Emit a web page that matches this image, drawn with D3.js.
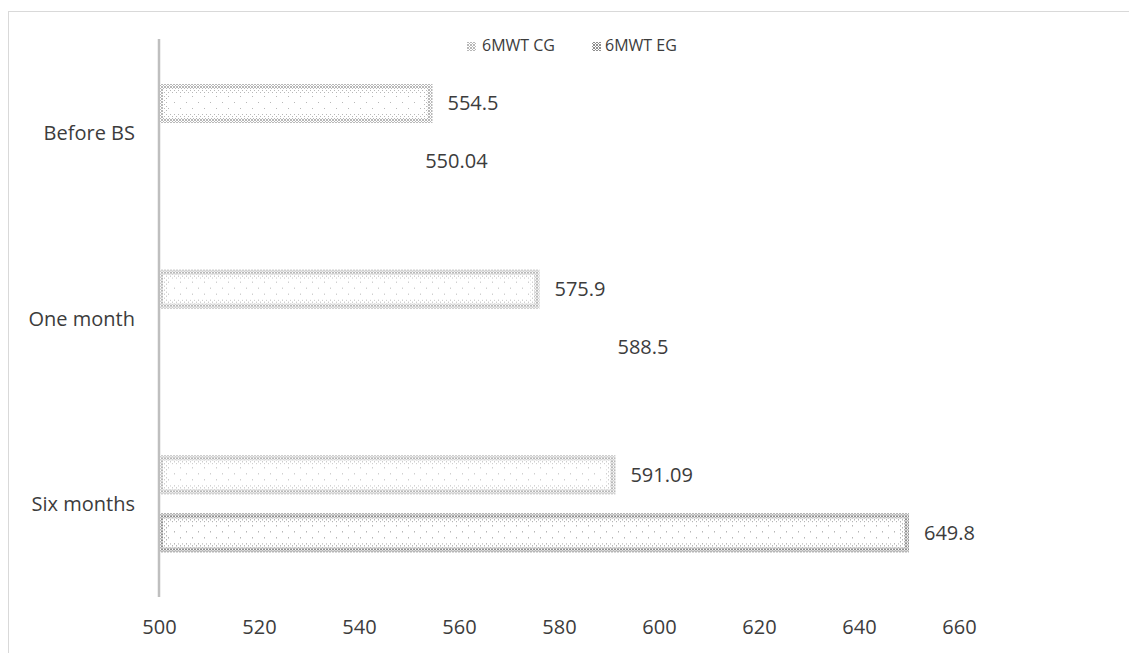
<!DOCTYPE html>
<html>
<head>
<meta charset="utf-8">
<script src="https://cdn.jsdelivr.net/npm/d3@7/dist/d3.min.js"></script>
<style>
  html, body { margin: 0; padding: 0; background: #fff; }
  svg { display: block; font-family: "Open Sans", sans-serif; }
</style>
</head>
<body>
<svg id="chart" width="1129" height="653"></svg>
<script>
const categories = ["Before BS", "One month", "Six months"];
const seriesNames = ["6MWT CG", "6MWT EG"];
const cgValues = [554.5, 575.9, 591.09];
const egValues = [550.04, 588.5, 649.8];
const xTicks = [500, 520, 540, 560, 580, 600, 620, 640, 660];

const svg = d3.select("#chart");
const W = 1129, H = 653;
const textColor = "#3c3c3c";

// chart frame
svg.append("rect").attr("x", 8.5).attr("y", 11.5).attr("width", W + 20).attr("height", H + 20)
  .attr("fill", "#fff").attr("stroke", "#d9d9d9").attr("stroke-width", 1);

// patterns
const defs = svg.append("defs");
function makePatterns(id, color) {
  const dense = defs.append("pattern").attr("id", id + "-dense")
    .attr("patternUnits", "userSpaceOnUse").attr("width", 3).attr("height", 3);
  dense.append("rect").attr("width", 3).attr("height", 3).attr("fill", "#fff");
  [[0,0],[2,0],[1,1],[0,2],[2,2]].forEach(([a,b]) =>
    dense.append("rect").attr("x", a).attr("y", b).attr("width", 1).attr("height", 1).attr("fill", color));
  const mid = defs.append("pattern").attr("id", id + "-mid")
    .attr("patternUnits", "userSpaceOnUse").attr("width", 4).attr("height", 4);
  mid.append("rect").attr("width", 4).attr("height", 4).attr("fill", "#fff");
  [[0,0],[2,2]].forEach(([a,b]) =>
    mid.append("rect").attr("x", a).attr("y", b).attr("width", 1).attr("height", 1).attr("fill", color));
  const sparse = defs.append("pattern").attr("id", id + "-sparse")
    .attr("patternUnits", "userSpaceOnUse").attr("width", 12).attr("height", 12);
  sparse.append("rect").attr("width", 12).attr("height", 12).attr("fill", "#fff");
  [[0,0],[6,6]].forEach(([a,b]) =>
    sparse.append("rect").attr("x", a).attr("y", b).attr("width", 1).attr("height", 1).attr("fill", color));
}
makePatterns("cg", "#b8b8b8");
makePatterns("eg", "#8f8f8f");

// scales
const x = d3.scaleLinear().domain([500, 660]).range([159, 959]);
const y0 = d3.scaleBand().domain(categories).range([40, 597]);
const y1 = d3.scaleBand().domain(seriesNames).range([44, 141]).paddingInner(0.328);

// axis line (vertical category axis)
svg.append("line").attr("x1", x(500)).attr("x2", x(500)).attr("y1", 39).attr("y2", 597)
  .attr("stroke", "#bfbfbf").attr("stroke-width", 2.5);

// x tick labels
const xAxis = d3.axisBottom(x).tickValues(xTicks).tickSize(0).tickPadding(0);
const gx = svg.append("g").attr("transform", "translate(0,620)").call(xAxis);
gx.select(".domain").remove();
gx.selectAll("text").attr("fill", textColor).style("font-size", "20px")
  .style("font-family", "'Open Sans', sans-serif");

// category labels
const yAxis = d3.axisLeft(y0).tickSize(0).tickPadding(0);
const gy = svg.append("g").attr("transform", "translate(135,0)").call(yAxis);
gy.select(".domain").remove();
gy.selectAll("text").attr("fill", textColor).style("font-size", "20px")
  .style("font-family", "'Open Sans', sans-serif").attr("dy", "0.35em");

// bars
const rows = [];
categories.forEach((c, i) => {
  rows.push({cat: c, s: seriesNames[0], v: cgValues[i], id: "cg", visible: true});
  rows.push({cat: c, s: seriesNames[1], v: egValues[i], id: "eg", visible: i === categories.length - 1});
});

const bars = svg.append("g").selectAll("g").data(rows).join("g")
  .attr("transform", d => `translate(0,${y0(d.cat) + y1(d.s)})`);
const bh = y1.bandwidth();

bars.each(function(d) {
  const g = d3.select(this);
  const w = x(d.v) - x(500);
  if (!d.visible) {
    g.append("rect").attr("x", x(500) + 1).attr("y", 0).attr("width", w).attr("height", bh)
      .attr("fill", "#fff").attr("fill-opacity", 0);
    return;
  }
  g.append("rect").attr("x", x(500) + 1).attr("y", 0).attr("width", w).attr("height", bh)
    .attr("fill", `url(#${d.id}-dense)`);
  g.append("rect").attr("x", x(500) + 4).attr("y", 5).attr("width", Math.max(0, w - 8)).attr("height", bh - 10)
    .attr("fill", `url(#${d.id}-mid)`);
  g.append("rect").attr("x", x(500) + 8).attr("y", 9).attr("width", Math.max(0, w - 16)).attr("height", bh - 18)
    .attr("fill", `url(#${d.id}-sparse)`);
});

// value labels
bars.append("text")
  .attr("x", d => x(d.v) + 16)
  .attr("y", bh / 2)
  .attr("dy", "0.35em")
  .attr("fill", textColor)
  .style("font-size", "20px")
  .text(d => d.v);

// legend
const legendItems = [
  {name: seriesNames[0], id: "cg", sx: 467, tx: 482},
  {name: seriesNames[1], id: "eg", sx: 592, tx: 605}
];
const lg = svg.append("g");
legendItems.forEach(it => {
  lg.append("rect").attr("x", it.sx).attr("y", 42).attr("width", 9).attr("height", 9)
    .attr("fill", `url(#${it.id}-dense)`);
  lg.append("text").attr("x", it.tx).attr("y", 51).attr("fill", textColor)
    .style("font-size", "16px").text(it.name);
});
</script>
</body>
</html>
